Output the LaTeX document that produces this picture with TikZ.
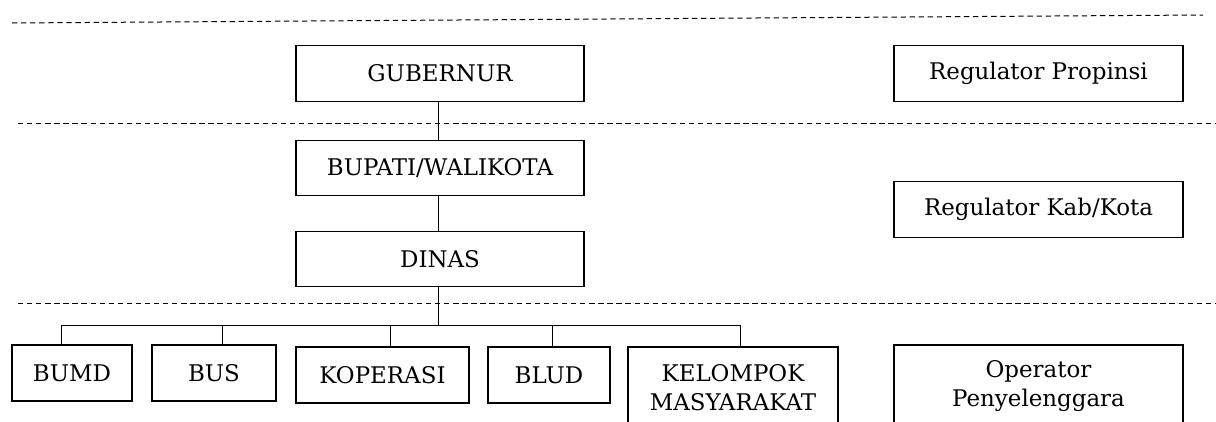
\documentclass[tikz,border=0pt]{standalone}
\usepackage{fontspec}
\setmainfont{DejaVu Serif}
\usetikzlibrary{calc}
\tikzset{
  orgbox/.style={draw, line width=0.9pt, inner sep=0pt, align=center,
    font=\fontsize{17.2}{21.75}\selectfont},
  wide/.style={orgbox, minimum width=216pt, minimum height=41.5pt},
  sepline/.style={line width=0.75pt, dash pattern=on 4pt off 2.8pt},
  link/.style={line width=0.75pt}
}
\begin{document}
\begin{tikzpicture}[x=0.75pt,y=-0.75pt]
\useasboundingbox (0,0) rectangle (1216,421);
\clip (0,0) rectangle (1216,421);
% separators
\coordinate (s1a) at (12,23); \coordinate (s1b) at (1203,15);
\coordinate (s2a) at (18,123); \coordinate (s2b) at (1216,123);
\coordinate (s3a) at (18,303); \coordinate (s3b) at (1216,303);
\draw[sepline] (s1a) -- (s1b);
\draw[sepline] (s2a) -- (s2b);
\draw[sepline] (s3a) -- (s3b);
% hierarchy
\node[wide] (gub) at (440,73.5) {GUBERNUR};
\node[wide] (bup) at (440,168) {BUPATI/WALIKOTA};
\node[wide] (din) at (440,259) {DINAS};
% right column
\node[wide, minimum width=216.75pt] (rp) at (1038.5,73.5) {Regulator Propinsi};
\node[wide, minimum width=216.75pt] (rk) at (1038.5,209.5) {Regulator Kab/Kota};
\node[orgbox, minimum width=216.75pt, minimum height=61.5pt] (op) at (1038.5,386) {Operator\\Penyelenggara};
% operators
\node[orgbox, minimum width=90pt, minimum height=42pt] (bumd) at (72,373) {BUMD};
\node[orgbox, minimum width=93pt, minimum height=42pt] (bus) at (214,373) {BUS};
\node[orgbox, minimum width=129.75pt, minimum height=42pt] (kop) at (382.5,375) {KOPERASI};
\node[orgbox, minimum width=91.5pt, minimum height=42pt] (blud) at (549,375) {BLUD};
\node[orgbox, minimum width=157.5pt, minimum height=60.75pt] (kel) at (733,387.5) {KELOMPOK\\MASYARAKAT};
% connectors
\coordinate (hub) at (438,325);
\draw[link] ([xshift=-1.5pt]gub.south) -- ([xshift=-1.5pt]bup.north);
\draw[link] ([xshift=-1.5pt]bup.south) -- ([xshift=-1.5pt]din.north);
\draw[link] ([xshift=-1.5pt]din.south) -- (hub);
\draw[link] ([xshift=-8.25pt]bumd.north) |- ([xshift=5.25pt]kel.north |- hub) -- ([xshift=5.25pt]kel.north);
\draw[link] ([xshift=6pt]bus.north) -- ([xshift=6pt]bus.north |- hub);
\draw[link] ([xshift=6pt]kop.north) -- ([xshift=6pt]kop.north |- hub);
\draw[link] ([xshift=2.25pt]blud.north) -- ([xshift=2.25pt]blud.north |- hub);
\end{tikzpicture}
\end{document}
